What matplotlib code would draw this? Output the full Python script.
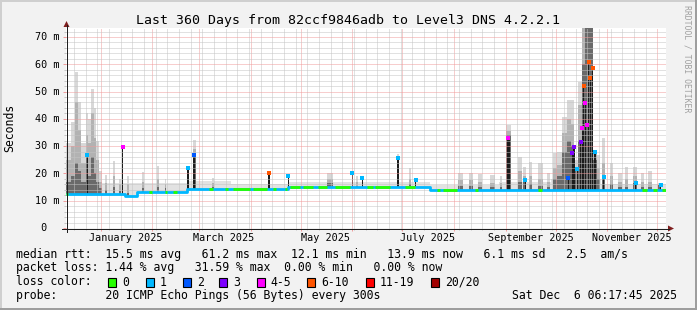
import numpy as np
import pandas as pd
import matplotlib
matplotlib.use("Agg")
import matplotlib.pyplot as plt
import matplotlib.dates as mdates
from matplotlib.ticker import MultipleLocator
from matplotlib.patches import Polygon, Rectangle
from matplotlib.lines import Line2D

W, H = 697, 310
L, R, T, B = 66, 666, 28, 228      # canvas in pixels
YMAX = 73.3

t_start = pd.Timestamp("2024-12-11 06:17:45")
t_end = pd.Timestamp("2025-12-06 06:17:45")

# median rtt baseline (ms), step changes
base_dates = ["2024-12-11 06:17", "2025-01-15 14:00", "2025-01-22 18:00",
              "2025-02-21 18:00", "2025-04-23 12:00", "2025-07-17 14:00"]
base_ms = [12.6, 11.9, 13.3, 14.2, 14.9, 13.8]

# light smoke band above the median
haze_dates = ["2024-12-11 06:17", "2025-01-01", "2025-02-22", "2025-03-20", "2025-04-23 12:00",
              "2025-07-17 14:00", "2025-08-28", "2025-09-28", "2025-10-28"]
haze_ms = [17.0, 16.5, 17.2, 16.3, 16.8, 15.8, 16.8, 18.0, 16.0]

# smoke columns: start, width (days), top / middle / dark core (ms)
smoke_dates = ["2024-12-11 06:17", "2024-12-14 06:00", "2024-12-16 16:00", "2024-12-18 11:00",
               "2024-12-20 06:00", "2024-12-23 06:00", "2024-12-24 11:00", "2024-12-26 06:00",
               "2024-12-28 01:00", "2024-12-29 05:00", "2024-12-31 00:00", "2025-01-03 12:00",
               "2025-01-08 10:00", "2025-01-12 00:00", "2025-01-16 19:00", "2025-01-25 19:00",
               "2025-02-03 19:00", "2025-02-08 12:00", "2025-02-25 18:00", "2025-03-08 18:00",
               "2025-05-16 18:00", "2025-06-03 06:00", "2025-06-27 18:00", "2025-07-05 00:00",
               "2025-08-03 10:00", "2025-08-10 00:00", "2025-08-15 10:00", "2025-08-22 14:00",
               "2025-08-28 14:00", "2025-09-01 00:00", "2025-09-08 10:00", "2025-09-11 10:00",
               "2025-09-15 00:00", "2025-09-20 10:00", "2025-09-25 19:00", "2025-09-29 10:00",
               "2025-10-01 19:00", "2025-10-04 19:00", "2025-10-07 19:00", "2025-10-10 05:00",
               "2025-10-12 00:00", "2025-10-14 10:00", "2025-10-16 19:00", "2025-10-18 10:00",
               "2025-10-19 19:00", "2025-10-23 10:00", "2025-10-25 19:00", "2025-10-28 19:00",
               "2025-11-02 14:00", "2025-11-07 10:00", "2025-11-11 14:00", "2025-11-16 10:00",
               "2025-11-21 05:00", "2025-11-25 10:00", "2025-12-01 10:00"]
smoke_days = [3.0, 2.4, 1.8, 1.8, 3.0, 1.2, 1.8, 1.8, 1.2, 1.8, 1.8, 1.2,
              1.2, 1.0, 1.0, 1.0, 1.2, 1.0, 1.6, 1.2, 3.6, 1.2, 1.6, 1.0,
              3.0, 2.4, 2.4, 3.0, 1.2, 3.0, 2.4, 1.8, 1.8, 3.0, 1.8, 2.4,
              3.0, 3.0, 2.4, 1.8, 2.4, 2.4, 1.6, 1.4, 3.6, 2.4, 1.8, 1.8,
              1.8, 2.4, 1.8, 2.4, 1.8, 2.4, 1.8]
smoke_top = [31, 39, 57, 46, 31, 42, 40, 51, 44, 32, 21, 19.5,
             24.5, 18, 19, 20.5, 22.7, 18, 32.2, 18.5, 20.3, 19, 27, 22,
             20.3, 20.3, 19.8, 19.4, 19, 37.7, 26, 22.5, 24.3, 23.8, 20, 27.4,
             28, 40.8, 46.9, 47, 24.9, 53.6, 74, 74, 74, 28.6, 26.7, 33,
             23.8, 20, 22.5, 22.5, 20, 21, 16.5]
smoke_mid = [25, 30, 46, 36, 24, 34, 31, 42, 33, 25, 17, 16.5,
             19, 16, 16, 17, 18, 16, 29, 16.5, 18, 17, 26.5, 18,
             17.5, 17.5, 17, 16.5, 16.5, 35.5, 21, 19, 19, 18, 17, 22,
             23, 35, 40, 38, 22.5, 45, 74, 74, 74, 27, 22, 24,
             19, 17, 18, 19, 17, 17, 15.7]
smoke_core = [17, 19, 24, 21, 17, 22, 19, 26, 20, 17, 14.5, 14,
              15, 13.5, 13, 14.5, 15, 14.5, 27, 15, 16.5, 15.5, 26, 16,
              15.5, 15.5, 15, 15, 15, 34, 17, 17.6, 16, 15.5, 15, 18,
              19, 28, 32, 30, 21, 32, 60, 74, 74, 25, 18, 18.8,
              16, 15, 15, 16.5, 15, 15, 15.7]

# median spikes: start, width (days), median (ms), loss class
spike_dates = ["2024-12-23 12:00", "2025-01-13 18:00", "2025-02-21 18:00", "2025-02-25 18:00",
               "2025-04-11 06:00", "2025-04-23 06:00", "2025-05-31 18:00", "2025-06-06 18:00",
               "2025-06-28 00:00", "2025-07-08 12:00", "2025-09-01 18:00", "2025-09-12 12:00",
               "2025-10-08 06:00", "2025-10-10 18:00", "2025-10-11 14:00", "2025-10-13 16:00",
               "2025-10-15 14:00", "2025-10-16 19:00", "2025-10-17 14:00", "2025-10-18 14:00",
               "2025-10-19 16:00", "2025-10-20 14:00", "2025-10-21 14:00", "2025-10-23 00:00",
               "2025-10-24 05:00", "2025-10-29 10:00", "2025-11-17 14:00", "2025-12-02 14:00"]
spike_days = [0.8, 0.9, 1.2, 1.2, 1.2, 1.0, 0.8, 0.8, 1.2, 1.0, 1.8, 0.8,
              0.8, 0.8, 0.8, 0.8, 0.8, 0.6, 0.6, 0.6, 0.6, 0.6, 0.6, 0.6,
              0.8, 0.8, 0.8, 0.8]
spike_ms = [26.7, 29.7, 22.0, 26.7, 20.3, 19.0, 20.0, 18.3, 25.8, 17.6, 33.0, 17.6,
            18.2, 27.6, 29.8, 21.6, 31.4, 36.6, 52.0, 45.9, 37.6, 61.0, 55.1, 58.8,
            28.0, 18.8, 16.5, 15.7]
spike_loss = [1, 4, 1, 2, 5, 1, 1, 1, 1, 1, 4, 1,
              2, 3, 3, 1, 3, 4, 5, 4, 4, 5, 5, 5,
              1, 1, 1, 1]

# periods with no loss (green median)
green_dates = ["2024-12-11 06:17", "2025-01-30 00:00", "2025-02-08 12:00", "2025-02-13 10:00",
               "2025-03-07 00:00", "2025-03-16 14:00", "2025-03-21 10:00", "2025-04-02 10:00",
               "2025-04-14 10:00", "2025-04-21 14:00", "2025-04-24 14:00", "2025-05-02 10:00",
               "2025-05-11 10:00", "2025-05-21 14:00", "2025-06-09 19:00", "2025-06-14 14:00",
               "2025-07-02 14:00", "2025-07-21 19:00", "2025-07-25 10:00", "2025-08-13 14:00",
               "2025-09-20 10:00", "2025-11-21 19:00", "2025-11-28 10:00", "2025-12-03 19:00"]
green_days = [1.5, 1.8, 1.2, 2.4, 2.5, 1.8, 10.2, 8.4, 1.8, 1.2, 6.0, 6.0,
              5.4, 9.0, 3.6, 9.0, 6.0, 1.8, 8.4, 1.8, 2.4, 3.0, 2.4, 2.4]

loss_labels = ["0", "1", "2", "3", "4-5", "6-10", "11-19", "20/20"]
loss_colors = ["#26ff00", "#00b8ff", "#0059ff", "#7e00ff", "#ff00ff", "#ff5500", "#ff0000", "#a10000"]

month_dates = ["2025-01-16", "2025-03-16", "2025-05-16", "2025-07-16", "2025-09-16", "2025-11-16"]
month_labels = ["January 2025", "March 2025", "May 2025", "July 2025", "September 2025", "November 2025"]

rtt_stats = [15.5, 61.2, 12.1, 13.9, 6.1, 2.5]      # avg max min now sd am/s
loss_stats = [1.44, 31.59, 0.00, 0.00]             # avg max min now


def num(d):
    return mdates.date2num(pd.to_datetime(d, format="mixed").to_pydatetime())


def step_at(x, dates, vals):
    idx = np.searchsorted(num(dates), x, side="right") - 1
    return np.asarray(vals)[np.clip(idx, 0, None)]


def fx(x):
    return x / W


def fy(y):
    return 1 - y / H


MONO = "DejaVu Sans Mono"

fig = plt.figure(figsize=(W / 100, H / 100), dpi=100, facecolor="#f2f2f2")
ax = fig.add_axes([fx(L), fy(B), (R - L) / W, (B - T) / H], facecolor="white")

x0 = mdates.date2num(t_start.to_pydatetime())
x1 = mdates.date2num(t_end.to_pydatetime())

# light smoke band
bx = np.union1d(num(base_dates), num(haze_dates))
bx = np.append(bx, x1)
ax.fill_between(bx, step_at(bx, base_dates, base_ms) - 0.4, step_at(bx, haze_dates, haze_ms),
                step="post", color="#e2e2e2", lw=0, zorder=1)

# smoke columns
sx = num(smoke_dates)
sb = step_at(sx, base_dates, base_ms)
for vals, col in [(smoke_top, "#d8d8d8"), (smoke_mid, "#b2b2b2"), (smoke_core, "#6a6a6a")]:
    v = np.asarray(vals, dtype=float)
    ax.bar(sx, np.clip(v - sb, 0, None), width=smoke_days, bottom=sb, align="edge",
           color=col, lw=0, zorder=1.2)

# median line
mx = np.append(num(base_dates), x1)
ax.step(mx, base_ms + [base_ms[-1]], where="post", color=loss_colors[1], lw=2.0, zorder=3,
        solid_capstyle="butt")
gx = num(green_dates)
ax.hlines(step_at(gx, base_dates, base_ms), gx, gx + np.asarray(green_days),
          colors=loss_colors[0], lw=2.0, zorder=3.1, capstyle="butt")

# spikes
kx = num(spike_dates)
kb = step_at(kx, base_dates, base_ms)
ax.bar(kx, np.asarray(spike_ms) - kb, width=spike_days, bottom=kb, align="edge",
       color="#1c1c1c", lw=0, zorder=2)
for xx, ww, yy, cl in zip(kx, spike_days, spike_ms, spike_loss):
    ax.plot([xx + ww / 2], [yy], ls="none", marker="s", ms=2.4, mew=0,
            color=loss_colors[cl], zorder=3.2)

ax.set_xlim(x0, x1)
ax.set_ylim(0, YMAX)

# grid & ticks
ax.xaxis.set_major_locator(mdates.MonthLocator())
ax.xaxis.set_minor_locator(mdates.WeekdayLocator(byweekday=mdates.MO))
ax.yaxis.set_major_locator(MultipleLocator(10))
ax.yaxis.set_minor_locator(MultipleLocator(2))
mgrid = "#f09c9c"
grid = "#c4c4c4"
ax.grid(which="major", color=mgrid, lw=0.72, ls=(0, (1, 1)))
ax.grid(which="minor", color=grid, lw=0.72, ls=(0, (1, 1)))
ax.set_axisbelow(False)
ax.tick_params(which="major", length=2.2, width=0.72, color=mgrid, direction="out",
               labelbottom=False, labelleft=False)
ax.tick_params(which="minor", length=1.5, width=0.72, color=grid, direction="out")
for s in ax.spines.values():
    s.set_visible(False)

# axes lines and arrows
axc = "#1f1f1f"
fig.add_artist(Line2D([fx(L - 4), fx(R + 3)], [fy(B + 0.5)] * 2, color=axc, lw=0.72))
fig.add_artist(Line2D([fx(L + 0.5)] * 2, [fy(B + 4), fy(T - 3)], color=axc, lw=0.72))
arrow = "#801f1f"
fig.add_artist(Polygon([(fx(L - 2.5), fy(T - 1)), (fx(L + 3.5), fy(T - 1)), (fx(L + 0.5), fy(T - 7))],
                       closed=True, fc=arrow, ec="none"))
fig.add_artist(Polygon([(fx(R + 2), fy(B - 2.5)), (fx(R + 2), fy(B + 3.5)), (fx(R + 8), fy(B + 0.5))],
                       closed=True, fc=arrow, ec="none"))

# y labels
for v in range(0, 71, 10):
    ypx = B - v * (B - T) / YMAX
    fig.text(fx(35), fy(ypx + 3.3), f"{v} m" if v else " 0", family=MONO, size=7.3,
             ha="left", va="baseline")

# month labels
for d, lab in zip(num(month_dates), month_labels):
    xpx = L + (d - x0) / (x1 - x0) * (R - L)
    fig.text(fx(xpx), fy(240.7), lab, family=MONO, size=7.3, ha="center", va="baseline")

fig.text(fx(348), fy(24), "Last 360 Days from 82ccf9846adb to Level3 DNS 4.2.2.1",
         family=MONO, size=9.5, ha="center", va="baseline")
fig.text(fx(10), fy((T + B) / 2), "Seconds", family=MONO, size=8.3, rotation=90,
         ha="center", va="center")
fig.text(fx(687.5), fy(59), "RRDTOOL / TOBI OETIKER", family=MONO, size=5.9, rotation=270,
         ha="center", va="center", color="#a0a0a0")

a, mx_, mn, now, sd, am = rtt_stats
la, lmx, lmn, lnow = loss_stats
lines = [
    f"median rtt:  {a:.1f} ms avg   {mx_:.1f} ms max  {mn:.1f} ms min   {now:.1f} ms now   {sd:.1f} ms sd   {am:.1f}  am/s",
    f"packet loss: {la:.2f} % avg   {lmx:.2f} % max  {lmn:.2f} % min   {lnow:.2f} % now",
    "loss color:",
    "probe:       20 ICMP Echo Pings (56 Bytes) every 300s",
]
for i, s in enumerate(lines):
    fig.text(fx(15.5), fy(257.7 + 13.8 * i), s, family=MONO, size=8.3, ha="left", va="baseline")
fig.text(fx(512.5), fy(299.1), "Sat Dec  6 06:17:45 2025", family=MONO, size=8.3,
         ha="left", va="baseline")

box_x = [108, 146, 183, 219, 256.5, 307, 366, 431]
for bxp, lab, col in zip(box_x, loss_labels, loss_colors):
    fig.add_artist(Rectangle((fx(bxp), fy(286.5)), 8 / W, 8.5 / H, fc=col, ec="black", lw=0.8))
    fig.text(fx(bxp + 14), fy(285.5), lab, family=MONO, size=8.3, ha="left", va="baseline")

# border shading
fig.add_artist(Rectangle((0, fy(2)), 1, 2 / H, fc="#cfcfcf", ec="none"))
fig.add_artist(Rectangle((0, 0), 2 / W, 1, fc="#cfcfcf", ec="none"))
fig.add_artist(Rectangle((0, 0), 1, 2 / H, fc="#9e9e9e", ec="none"))
fig.add_artist(Rectangle((fx(W - 2), 0), 2 / W, 1, fc="#9e9e9e", ec="none"))

fig.savefig("out.png", dpi=100, facecolor=fig.get_facecolor())
